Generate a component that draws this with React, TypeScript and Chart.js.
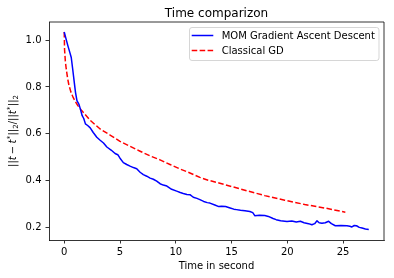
import { useEffect, useRef } from "react";
import { Chart, registerables } from "chart.js";

Chart.register(...registerables);

// ---- data ----
const momTime = [
  0.0, 0.15, 0.33, 0.5, 0.63, 0.75, 0.83, 0.92, 1.01, 1.14, 1.31, 1.45, 1.61, 1.75, 1.9, 2.1, 2.33, 2.6,
  2.92, 3.22, 3.52, 3.82, 4.2, 4.56, 4.8, 5.0, 5.3, 5.6, 5.9, 6.2, 6.5, 6.8, 7.09, 7.4, 7.7, 7.99, 8.29,
  8.59, 8.88, 9.2, 9.63, 10.08, 10.4, 10.67, 11.0, 11.27, 11.57, 11.9, 12.16, 12.5, 12.82, 13.06, 13.5,
  13.86, 14.1, 14.46, 14.8, 15.2, 15.44, 15.8, 16.2, 16.64, 16.9, 17.08, 17.5, 17.98, 18.3, 18.72, 19.0,
  19.4, 19.97, 20.4, 20.8, 21.17, 21.5, 21.9, 22.2, 22.45, 22.66, 22.85, 23.1, 23.4, 23.7, 23.95, 24.3,
  24.8, 25.34, 25.6, 25.79, 26.0, 26.2, 26.45, 26.7, 27.0, 27.3,
];
const momError = [
  1.035, 1.008, 0.976, 0.948, 0.926, 0.88, 0.848, 0.812, 0.777, 0.741, 0.727, 0.705, 0.677, 0.665, 0.642,
  0.635, 0.625, 0.605, 0.585, 0.572, 0.56, 0.543, 0.53, 0.515, 0.51, 0.495, 0.476, 0.468, 0.461, 0.455,
  0.45, 0.435, 0.425, 0.418, 0.41, 0.405, 0.397, 0.386, 0.38, 0.376, 0.362, 0.354, 0.348, 0.344, 0.34,
  0.339, 0.328, 0.323, 0.318, 0.31, 0.305, 0.303, 0.295, 0.288, 0.289, 0.288, 0.283, 0.277, 0.275, 0.272,
  0.27, 0.267, 0.262, 0.249, 0.251, 0.25, 0.246, 0.237, 0.232, 0.227, 0.224, 0.226, 0.222, 0.225, 0.219,
  0.215, 0.21, 0.215, 0.227, 0.219, 0.217, 0.219, 0.225, 0.215, 0.206, 0.207, 0.206, 0.204, 0.201, 0.207,
  0.206, 0.199, 0.196, 0.192, 0.19,
];
const gdTime = [
  0.0, 0.03, 0.1, 0.18, 0.3, 0.42, 0.6, 0.8, 1.0, 1.22, 1.5, 1.82, 2.33, 3.22, 4.11, 5.0, 5.9, 6.8, 7.69,
  8.59, 9.48, 10.37, 11.27, 12.16, 12.9, 13.95, 14.4, 16.19, 17.98, 19.77, 21.56, 23.35, 25.2,
];
const gdError = [
  1.035, 0.96, 0.91, 0.877, 0.838, 0.808, 0.778, 0.755, 0.737, 0.72, 0.703, 0.685, 0.657, 0.62, 0.594,
  0.567, 0.546, 0.525, 0.505, 0.488, 0.468, 0.449, 0.432, 0.413, 0.401, 0.388, 0.382, 0.358, 0.335, 0.315,
  0.297, 0.282, 0.264,
];
const seriesLabels = ["MOM Gradient Ascent Descent", "Classical GD"];
const xTickValues = [0, 5, 10, 15, 20, 25];
const yTickValues = [0.2, 0.4, 0.6, 0.8, 1.0];
const titleText = "Time comparizon";
const xAxisLabel = "Time in second";

const FONT = "'DejaVu Sans', sans-serif";

const decorPlugin = {
  id: "decor",
  afterDraw(chart: any) {
    const ctx: CanvasRenderingContext2D = chart.ctx;
    const a = chart.chartArea;
    ctx.save();
    // top and right spines
    ctx.strokeStyle = "#000";
    ctx.lineWidth = 0.8;
    ctx.beginPath();
    ctx.moveTo(a.left, a.top);
    ctx.lineTo(a.right, a.top);
    ctx.lineTo(a.right, a.bottom);
    ctx.stroke();

    // title
    ctx.fillStyle = "#000";
    ctx.font = `12px ${FONT}`;
    ctx.textAlign = "center";
    ctx.textBaseline = "alphabetic";
    ctx.fillText(titleText, (a.left + a.right) / 2, 16.5);

    // x axis label
    ctx.font = `10px ${FONT}`;
    ctx.fillText(xAxisLabel, (a.left + a.right) / 2, 268.5);

    // y axis label (mathtext-like)
    const normal = `10px ${FONT}`;
    const italic = `italic 10px ${FONT}`;
    const small = `7px ${FONT}`;
    const pieces: [string, string, number, number][] = [
      ["||", normal, 0, 0],
      ["t", italic, 0, 0],
      ["\u2212", normal, 0, 2.2],
      ["t", italic, 0, 0],
      ["*", small, -4, 0.3],
      ["||", normal, 0, 0],
      ["2", small, 2.2, 0],
      ["/", normal, 0, 0],
      ["||", normal, 0, 0],
      ["t", italic, 0, 0],
      ["*", small, -4, 0.3],
      ["||", normal, 0, 0],
      ["2", small, 2.2, 0],
    ];
    let total = 0;
    const widths = pieces.map(([t, f, , gap]) => {
      ctx.font = f;
      const w = ctx.measureText(t).width + 2 * gap;
      total += w;
      return w;
    });
    ctx.translate(15.6, (a.top + a.bottom) / 2);
    ctx.rotate(-Math.PI / 2);
    ctx.textAlign = "left";
    let cx = -total / 2;
    pieces.forEach(([t, f, dy, gap], i) => {
      ctx.font = f;
      ctx.fillText(t, cx + gap, dy);
      cx += widths[i];
    });
    ctx.restore();

    // legend
    ctx.save();
    const lx = 189.5, ly = 27.5, lw = 189.5, lh = 33, r = 2.5;
    ctx.beginPath();
    ctx.moveTo(lx + r, ly);
    ctx.arcTo(lx + lw, ly, lx + lw, ly + lh, r);
    ctx.arcTo(lx + lw, ly + lh, lx, ly + lh, r);
    ctx.arcTo(lx, ly + lh, lx, ly, r);
    ctx.arcTo(lx, ly, lx + lw, ly, r);
    ctx.closePath();
    ctx.fillStyle = "rgba(255,255,255,0.8)";
    ctx.fill();
    ctx.strokeStyle = "rgba(204,204,204,0.8)";
    ctx.lineWidth = 1;
    ctx.stroke();
    chart.data.datasets.forEach((ds: any, i: number) => {
      const y = 35.5 + i * 15;
      ctx.strokeStyle = ds.borderColor;
      ctx.lineWidth = ds.borderWidth;
      ctx.setLineDash(ds.borderDash || []);
      ctx.beginPath();
      ctx.moveTo(191.7, y);
      ctx.lineTo(213.3, y);
      ctx.stroke();
      ctx.setLineDash([]);
      ctx.fillStyle = "#000";
      ctx.font = `10px ${FONT}`;
      ctx.textAlign = "left";
      ctx.textBaseline = "middle";
      ctx.fillText(ds.label, 221.7, y + 0.5);
    });
    ctx.restore();
  },
};

export default function App() {
  const ref = useRef<HTMLCanvasElement | null>(null);
  useEffect(() => {
    if (!ref.current) return;
    const chart = new Chart(ref.current, {
      type: "line",
      data: {
        datasets: [
          {
            label: seriesLabels[0],
            data: momTime.map((x, i) => ({ x, y: momError[i] })),
            borderColor: "#0000ff",
            borderWidth: 1.5,
            pointRadius: 0,
            tension: 0,
            borderJoinStyle: "round",
            fill: false,
          },
          {
            label: seriesLabels[1],
            data: gdTime.map((x, i) => ({ x, y: gdError[i] })),
            borderColor: "#ff0000",
            borderWidth: 1.5,
            borderDash: [5.55, 2.4],
            pointRadius: 0,
            tension: 0,
            borderJoinStyle: "round",
            fill: false,
          },
        ],
      },
      options: {
        animation: false,
        responsive: false,
        devicePixelRatio: 1,
        layout: { padding: { left: 0, top: 22, right: 10, bottom: 0 } },
        plugins: {
          legend: { display: false },
          title: { display: false },
          tooltip: { enabled: false },
        },
        scales: {
          x: {
            type: "linear",
            min: -1.365,
            max: 28.665,
            afterFit: (s: any) => {
              s.height = 38;
            },
            afterBuildTicks: (s: any) => {
              s.ticks = xTickValues.map((v) => ({ value: v }));
            },
            ticks: {
              font: { family: FONT, size: 10 },
              color: "#000",
              padding: 3,
              maxRotation: 0,
              autoSkip: false,
              callback: (v: any) => String(v),
            },
            grid: {
              drawOnChartArea: false,
              drawTicks: true,
              tickLength: 3.5,
              color: "#000",
              lineWidth: 0.8,
            },
            border: { display: true, color: "#000", width: 0.8 },
          },
          y: {
            type: "linear",
            min: 0.145,
            max: 1.078,
            afterFit: (s: any) => {
              s.width = 49;
            },
            afterBuildTicks: (s: any) => {
              s.ticks = yTickValues.map((v) => ({ value: v }));
            },
            ticks: {
              font: { family: FONT, size: 10 },
              color: "#000",
              padding: 4,
              autoSkip: false,
              callback: (v: any) => Number(v).toFixed(1),
            },
            grid: {
              drawOnChartArea: false,
              drawTicks: true,
              tickLength: 3.5,
              color: "#000",
              lineWidth: 0.8,
            },
            border: { display: true, color: "#000", width: 0.8 },
          },
        },
      },
      plugins: [decorPlugin],
    });
    return () => chart.destroy();
  }, []);
  return (
    <div style={{ position: "absolute", left: 0, top: 0, width: 394, height: 278, background: "#fff" }}>
      <canvas ref={ref} width={394} height={278} style={{ display: "block", width: 394, height: 278 }} />
    </div>
  );
}
